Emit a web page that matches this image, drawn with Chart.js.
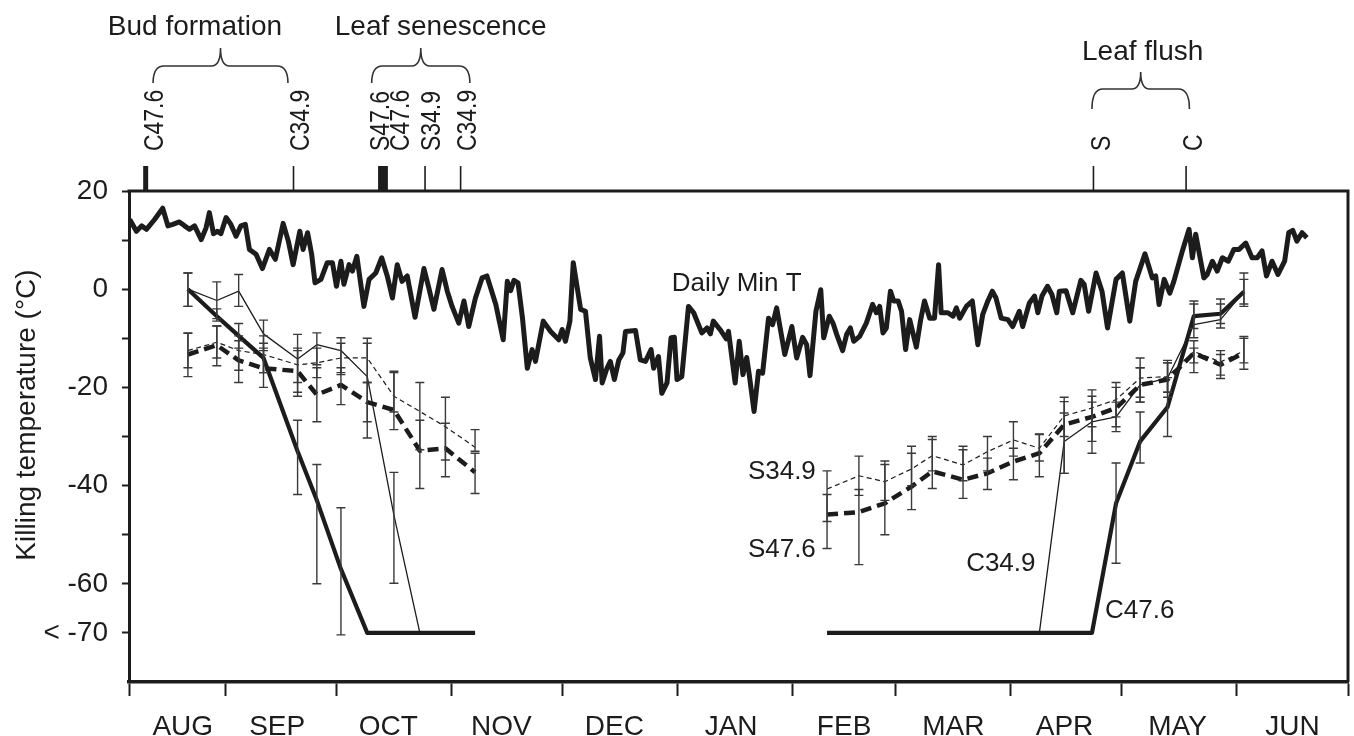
<!DOCTYPE html>
<html>
<head>
<meta charset="utf-8">
<script src="https://cdn.jsdelivr.net/npm/chart.js@4.4.1/dist/chart.umd.min.js"></script>
<style>
  html, body { margin: 0; padding: 0; background: #fff; }
  canvas { display: block; }
</style>
</head>
<body>
<canvas id="chart" width="1354" height="736"></canvas>
<script>
const FONT = "'Liberation Sans', Arial, Helvetica, sans-serif"
const INK = '#1c1c1c'

// x values are days counted from 1 August (Aug 1 = 0)
const monthLabels = ['AUG', 'SEP', 'OCT', 'NOV', 'DEC', 'JAN', 'FEB', 'MAR', 'APR', 'MAY', 'JUN']
const monthStarts = [5, 31, 61, 92, 122, 153, 184, 212, 243, 273, 304, 334]
const monthMids = [19.5, 45, 75, 105.5, 136, 167.5, 198, 227.5, 257.5, 288, 319]

const yTicks = [-70, -60, -50, -40, -30, -20, -10, 0, 10, 20]
const yTickLabels = ['< -70', '-60', '', '-40', '', '-20', '', '0', '', '20']

// daily minimum air temperature, [day, °C]
const dailyMinT = [
  [5.2, 14.2], [7, 11.8], [8.4, 12.9], [9.7, 12.2], [11.9, 14.2], [14.1, 16.5], [15.5, 12.9], [16.8, 13.2],
  [18.6, 13.7], [20, 12.9], [21.3, 12.2], [22.7, 12.9], [24.5, 10.1], [25.8, 12.5], [26.7, 15.6], [27.8, 11.3],
  [28.9, 11.8], [29.8, 11.3], [31.2, 14.6], [32.5, 13.2], [33.9, 10.8], [35.2, 12.9], [36.4, 13.2], [37.5, 8.1],
  [39.3, 7.1], [41, 4.2], [42.9, 8.1], [44.5, 6.1], [46.6, 13.4], [48, 9.8], [49.3, 5.0], [51.1, 11.8],
  [52, 8.1], [53.2, 11.5], [54.3, 7.1], [55.2, 1.3], [56.8, 2.0], [58.5, 5.4], [59.9, 5.4], [61, 0.6],
  [62.2, 5.7], [63, 1.0], [64.4, 5.0], [65.3, 3.7], [66.5, 6.7], [68.4, -3.5], [69.8, 2.0], [71.6, 3.3],
  [73.2, 6.4], [74.7, 2.7], [76.1, -1.8], [77.4, 5.0], [78.7, 1.6], [80.1, 2.7], [82.2, -5.7], [84.6, 4.2],
  [85.9, 0.3], [87.3, -4.1], [89.5, 4.0], [90.9, -0.4], [92.2, -3.5], [94, -6.9], [95.4, -2.4], [96.7, -7.6],
  [98.5, -1.8], [100.3, 2.3], [101.6, 2.7], [104, -3.1], [106, -10.3], [107.1, 1.6], [108, -0.3], [108.9, 1.8],
  [110, 1.3], [111.2, -5.9], [112.5, -16.1], [113.8, -12.3], [114.7, -14.7], [116.8, -6.5], [118.8, -8.6], [121, -10.3],
  [121.9, -8.2], [122.8, -10.6], [124, -6.5], [124.9, 5.4], [126.9, -4.1], [128.2, -4.5], [129.5, -14.0], [130.9, -18.4],
  [132, -9.6], [132.7, -19.1], [134, -16.1], [134.9, -14.7], [136, -18.4], [137.2, -14.4], [138.3, -13.0], [139, -8.6],
  [141.7, -8.4], [143, -14.4], [144.4, -14.7], [145.9, -12.3], [146.6, -16.1], [147.9, -13.7], [148.8, -21.2], [150.2, -19.1],
  [151.3, -9.9], [152.2, -9.8], [152.9, -18.4], [154.2, -17.8], [156, -3.5], [157.4, -4.8], [159.6, -8.9], [161, -7.9],
  [161.9, -9.1], [162.7, -6.5], [164.5, -8.2], [166.2, -10.1], [166.8, -8.6], [168.6, -19.1], [169.7, -10.6], [170.7, -17.4],
  [171.7, -13.9], [172.4, -17.4], [173.7, -24.9], [174.9, -16.7], [176, -17.1], [177.6, -5.9], [178.7, -7.2], [179.8, -3.8],
  [182, -13.3], [183.9, -7.6], [185.2, -14.0], [186.8, -9.8], [187.9, -11.3], [188.8, -17.6], [190.4, -4.5], [191.7, -0.1],
  [192.5, -9.9], [194, -5.5], [195, -6.9], [196, -9.2], [197.6, -12.5], [198.7, -9.2], [199.7, -7.9], [200.6, -10.6],
  [202.2, -9.6], [204, -6.9], [205.7, -3.1], [206.7, -4.8], [207.6, -3.5], [208.5, -8.9], [209.4, -7.9], [210.5, -0.4],
  [211.4, -2.4], [212.6, -2.4], [213.5, -4.5], [214.6, -12.3], [215.7, -6.2], [217.5, -11.8], [218.6, -6.5], [219.7, -2.4],
  [221.1, -5.9], [222.4, -5.9], [223.5, 5.0], [224.2, -4.8], [226, -4.8], [227.4, -5.5], [228.3, -3.8], [229.2, -5.9],
  [231, -3.5], [232.6, -2.4], [234.1, -11.3], [235.4, -5.2], [236.8, -2.4], [238, -0.4], [239, -1.8], [240.4, -5.9],
  [242.2, -6.2], [243.5, -7.6], [245.3, -4.5], [246.2, -7.6], [248, -2.8], [249.4, -1.4], [250.3, -4.8], [251.4, -1.4],
  [252.9, 0.6], [254.1, -1.1], [255.4, -4.8], [256.1, -0.4], [257.9, -0.3], [259.7, -4.8], [261.9, 1.8], [262.8, 1.0],
  [264, -4.5], [266, 3.3], [267.6, -0.4], [269.1, -7.9], [271.4, 2.0], [273.1, 3.3], [275.1, -6.5], [276.7, 1.6],
  [279.2, 7.2], [281.2, 2.3], [282.1, 2.7], [283, -3.1], [284.4, 2.0], [285.9, -0.8], [287, 1.6], [289.3, 7.8],
  [291.1, 12.2], [292, 6.4], [292.9, 11.2], [295.1, 2.3], [296, 3.0], [297.4, 5.7], [298.7, 3.7], [300.1, 6.4],
  [301.7, 5.7], [303.2, 8.1], [304.6, 8.1], [306.4, 9.4], [308.1, 6.4], [309.5, 6.4], [310.8, 7.8], [312, 2.7],
  [313.5, 5.7], [315.1, 3.0], [316.9, 5.7], [318, 11.5], [319.1, 12.0], [320.2, 9.8], [321.6, 11.5], [322.9, 10.5],
]

// killing temperature, autumn sampling dates
const fallDays = [20.9, 28.7, 34.6, 41.3, 50.5, 55.7, 62.2, 69.3, 76.5, 83.5, 90.4, 98.4]
const c476Fall = [0, -5.5, -9.5, -14, -33, -43, -57, -70, -70, -70, -70, -70]
const c349Fall = [0, -2.3, -0.4, -9.1, -14.2, -11.3, -12.5, -17.8, -46, -70, -70, -70]
const s476Fall = [-13.3, -11.4, -14.5, -16.1, -16.7, -21.5, -19.5, -23, -24.6, -32.9, -32.4, -37.3]
const s349Fall = [-12.5, -10.8, -12.5, -13.3, -15.4, -15, -14, -14, -21.8, -24.9, -28, -32.2]

const c476FallErr = [[-3.5, 3.3], [-6.5, -4], [-12, -7], [-17, -11], [-41.8, -26.7], [-60, -35.7], [-70.4, -44.5], null, null, null, null, null]
const c349FallErr = [[-3.5, 3.3], [-6, 1.5], [-3.5, 3], [-12.5, -6.3], [-21.8, -9.2], [-15.4, -8.9], [-17.4, -9.9], [-30.3, -11], [-59.9, -37.3], null, null, null]
const s476FallErr = [[-17.8, -8.9], [-15.6, -7.5], [-19, -10.5], [-20, -12], [-21, -12.5], [-27, -16], [-23.5, -16], [-27, -19], [-28.6, -16.7], [-40.6, -26.7], [-38.2, -27.3], [-41.6, -33.4]]
const s349FallErr = [[-16, -9], [-14, -7.5], [-16.5, -9.5], [-17, -9.5], [-19, -12], [-18, -12], [-17, -11], [-19, -10], [-25, -17], [-32.7, -19], [-34.8, -22], [-33, -28.6]]

// killing temperature, spring sampling dates
const springDays = [193.4, 202, 209, 216.2, 221.8, 230.1, 236.7, 243.7, 250.7, 257.4, 264.9, 271.4, 277.9, 285.3, 292.4, 299.6, 305.9]
const c476Spring = [-70, -70, -70, -70, -70, -70, -70, -70, -70, -70, -70, -43.6, -31, -24, -5.5, -5, -0.5]
const c349Spring = [-70, -70, -70, -70, -70, -70, -70, -70, -70, -31, -27, -26, -19.5, -18.1, -7.2, -6.2, -0.5]
const s476Spring = [-45.9, -45.4, -43.6, -40.2, -37.1, -38.8, -37.5, -35.1, -33.4, -27.6, -26, -24.2, -19.5, -18.4, -13, -15.4, -13]
const s349Spring = [-40.7, -38, -39.2, -36.6, -33.9, -35.8, -33.1, -30.7, -32.4, -25.8, -24.2, -22.5, -18.1, -17.8, -12.7, -14.8, -12.6]

const c476SpringErr = [null, null, null, null, null, null, null, null, null, null, null, [-55.8, -35.4], [-35.4, -25], [-30, -18], [-8, -3], [-7, -3], [-3, 2]]
const c349SpringErr = [null, null, null, null, null, null, null, null, null, [-37.5, -22.9], [-31, -23], [-29, -23], [-23, -16], [-21, -15], [-9.9, -2.4], [-7.9, -2], [-3.5, 3.3]]
const s476SpringErr = [[-52.8, -41.8], [-56.1, -40.8], [-50, -35.7], [-44.9, -33.4], [-40.6, -30.6], [-42.6, -32.7], [-40.8, -34.4], [-38.8, -32.4], [-38.2, -29.6], [-37.5, -25.2], [-33.4, -21.8], [-28, -20], [-23, -16], [-22, -15], [-17, -12], [-18.2, -13.3], [-16.3, -9.6]]
const s349SpringErr = [[-47.3, -37], [-42, -34], [-43, -35], [-40, -32], [-37, -30], [-39, -32], [-37, -30], [-34, -27], [-35, -29.5], [-30, -22], [-28, -20.5], [-26, -19], [-22, -14], [-21, -14.5], [-15, -10.5], [-17.5, -12.5], [-15, -10]]

// phenology marks above the frame
const phenoDays = [9.5, 49.4, 72.9, 74.2, 84.9, 94.5, 265.3, 290.3]
const phenoLabelDays = [12.0, 51.4, 73.2, 78.4, 86.9, 96.7, 267.8, 292.5]
const phenoLabels = ['C47.6', 'C34.9', 'S47.6', 'C47.6', 'S34.9', 'C34.9', 'S', 'C']
const phenoBold = [true, false, true, true, false, false, false, false]

const braceNames = ['Bud formation', 'Leaf senescence', 'Leaf flush']
const braceFrom = [11.5, 70.5, 264.9]
const braceTo = [47.9, 97.0, 291.2]
const braceLabelDays = [22.8, 89.1, 278.6]

// in-plot text labels [text, day, °C]
const seriesNotes = [
  ['Daily Min T', 169, 1.0],
  ['S34.9', 181.2, -37.1],
  ['S47.6', 181.2, -53.1],
  ['C34.9', 240.3, -55.9],
  ['C47.6', 277.8, -65.6],
]

function line(label, days, vals, errors, width, dash) {
  return {
    label,
    data: days.map((d, i) => ({ x: d, y: vals[i] })),
    errors,
    borderColor: INK,
    borderWidth: width,
    borderDash: dash,
    borderJoinStyle: 'round',
    pointRadius: 0,
    tension: 0,
  }
}

const datasets = [
  {
    label: 'Daily Min T',
    data: dailyMinT.map(([x, y]) => ({ x, y })),
    borderColor: INK,
    borderWidth: 5,
    borderJoinStyle: 'round',
    pointRadius: 0,
    tension: 0,
  },
  line('C47.6', fallDays, c476Fall, c476FallErr, 4.2, []),
  line('C34.9', fallDays, c349Fall, c349FallErr, 1.3, []),
  line('S47.6', fallDays, s476Fall, s476FallErr, 4.5, [11, 6]),
  line('S34.9', fallDays, s349Fall, s349FallErr, 1.2, [5, 3.5]),
  line('C47.6', springDays, c476Spring, c476SpringErr, 4.2, []),
  line('C34.9', springDays, c349Spring, c349SpringErr, 1.3, []),
  line('S47.6', springDays, s476Spring, s476SpringErr, 4.5, [11, 6]),
  line('S34.9', springDays, s349Spring, s349SpringErr, 1.2, [5, 3.5]),
]

const errorBars = {
  id: 'errorBars',
  afterDatasetsDraw(chart) {
    const { ctx, scales: { x, y } } = chart
    ctx.save()
    ctx.strokeStyle = '#3a3a3a'
    ctx.lineWidth = 1.4
    chart.data.datasets.forEach((ds) => {
      if (!ds.errors) return
      ds.errors.forEach((e, i) => {
        if (!e) return
        const px = x.getPixelForValue(ds.data[i].x)
        const y1 = y.getPixelForValue(e[0])
        const y2 = y.getPixelForValue(e[1])
        ctx.beginPath()
        ctx.moveTo(px, y1)
        ctx.lineTo(px, y2)
        ctx.moveTo(px - 4.5, y1)
        ctx.lineTo(px + 4.5, y1)
        ctx.moveTo(px - 4.5, y2)
        ctx.lineTo(px + 4.5, y2)
        ctx.stroke()
      })
    })
    ctx.restore()
  },
}

function drawBrace(ctx, x1, x2, yEnd, yMid, yTip) {
  const xm = (x1 + x2) / 2
  ctx.beginPath()
  ctx.moveTo(x1, yEnd)
  ctx.quadraticCurveTo(x1, yMid, x1 + 11, yMid)
  ctx.lineTo(xm - 9, yMid)
  ctx.quadraticCurveTo(xm, yMid, xm, yTip)
  ctx.quadraticCurveTo(xm, yMid, xm + 9, yMid)
  ctx.lineTo(x2 - 11, yMid)
  ctx.quadraticCurveTo(x2, yMid, x2, yEnd)
  ctx.stroke()
}

const decor = {
  id: 'decor',
  afterDraw(chart) {
    const { ctx, chartArea: a, scales: { x, y } } = chart
    ctx.save()

    // close the frame
    ctx.strokeStyle = INK
    ctx.lineWidth = 3
    ctx.beginPath()
    ctx.moveTo(a.left - 1.5, a.top)
    ctx.lineTo(a.right, a.top)
    ctx.lineTo(a.right, a.bottom)
    ctx.stroke()

    ctx.fillStyle = INK

    // y axis title
    ctx.save()
    ctx.translate(27, 415)
    ctx.rotate(-Math.PI / 2)
    ctx.font = `28px ${FONT}`
    ctx.textAlign = 'center'
    ctx.textBaseline = 'middle'
    ctx.fillText('Killing temperature (°C)', 0, 0)
    ctx.restore()

    // phenology marks and their labels
    phenoDays.forEach((d, i) => {
      const px = x.getPixelForValue(d)
      ctx.lineWidth = phenoBold[i] ? 5 : 1.6
      ctx.beginPath()
      ctx.moveTo(px, a.top)
      ctx.lineTo(px, a.top - 25)
      ctx.stroke()

      ctx.save()
      ctx.translate(x.getPixelForValue(phenoLabelDays[i]), a.top - 40)
      ctx.rotate(-Math.PI / 2)
      ctx.scale(0.82, 1)
      ctx.font = `28px ${FONT}`
      ctx.textAlign = 'left'
      ctx.textBaseline = 'middle'
      ctx.fillText(phenoLabels[i], 0, 0)
      ctx.restore()
    })

    // braces grouping the marks
    ctx.strokeStyle = '#333'
    ctx.lineWidth = 1.6
    ctx.font = `28px ${FONT}`
    ctx.textAlign = 'center'
    ctx.textBaseline = 'alphabetic'
    braceNames.forEach((name, i) => {
      const low = i === 2
      const x1 = x.getPixelForValue(braceFrom[i])
      const x2 = x.getPixelForValue(braceTo[i])
      if (low) drawBrace(ctx, x1, x2, 109, 89, 72)
      else drawBrace(ctx, x1, x2, 83, 66, 48)
      ctx.fillText(name, x.getPixelForValue(braceLabelDays[i]), low ? 60 : 35)
    })

    // labels inside the plot
    ctx.font = `26px ${FONT}`
    ctx.textBaseline = 'middle'
    seriesNotes.forEach(([text, d, v]) => {
      ctx.fillText(text, x.getPixelForValue(d), y.getPixelForValue(v))
    })

    ctx.restore()
  },
}

new Chart(document.getElementById('chart'), {
  type: 'line',
  data: { datasets },
  plugins: [errorBars, decor],
  options: {
    responsive: false,
    animation: false,
    devicePixelRatio: 1,
    layout: { padding: { top: 191, right: 6, bottom: 0, left: 0 } },
    plugins: { legend: { display: false }, tooltip: { enabled: false } },
    scales: {
      x: {
        type: 'linear',
        min: 5,
        max: 334,
        afterBuildTicks(scale) {
          scale.ticks = [...monthStarts, ...monthMids].sort((p, q) => p - q).map((v) => ({ value: v }))
        },
        afterFit(scale) {
          scale.height = 54
          // the end ticks carry no label, so no side padding is needed
          scale.paddingLeft = 0
          scale.paddingRight = 0
        },
        grid: {
          drawOnChartArea: false,
          tickLength: 14,
          tickWidth: 2,
          tickColor: (c) => (c.tick && monthStarts.includes(c.tick.value) ? INK : 'rgba(0,0,0,0)'),
        },
        border: { color: INK, width: 3.5 },
        ticks: {
          autoSkip: false,
          maxRotation: 0,
          padding: 14,
          color: INK,
          font: { size: 28, family: FONT },
          callback: (v) => {
            const i = monthMids.indexOf(v)
            return i >= 0 ? monthLabels[i] : ''
          },
        },
      },
      y: {
        type: 'linear',
        min: -80,
        max: 20,
        afterBuildTicks(scale) {
          scale.ticks = yTicks.map((v) => ({ value: v }))
        },
        afterFit(scale) {
          scale.width = 129
        },
        grid: { drawOnChartArea: false, tickLength: 7, tickWidth: 2, tickColor: INK },
        border: { color: INK, width: 3 },
        ticks: {
          padding: 14,
          color: INK,
          font: { size: 28, family: FONT },
          callback: (v) => yTickLabels[yTicks.indexOf(v)],
        },
      },
    },
  },
})
</script>
</body>
</html>
